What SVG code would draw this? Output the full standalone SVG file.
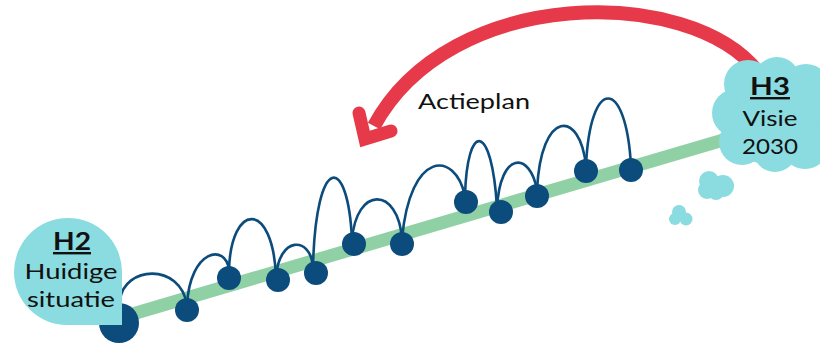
<svg xmlns="http://www.w3.org/2000/svg" width="820" height="343" viewBox="0 0 820 343">
  <style>
    .lbl { font-family: Lato, "Liberation Sans", sans-serif; fill: #111; text-anchor: middle; }
    .hd { font-weight: bold; text-decoration: underline; }
    .cyan { fill: #8adce0; }
    .arc { fill: none; stroke: #0b4c7c; stroke-width: 2.6; stroke-linecap: round; }
    .dot { fill: #0b4c7c; }
    .red { fill: none; stroke: #e63a4a; }
  </style>
  <rect width="820" height="343" fill="#ffffff"/>

  <!-- red arrow -->
  <g id="arrow-actieplan">
    <path class="red" d="M 758 72 C 690 -15 450 -15 374 126" stroke-width="14"/>
    <polyline class="red" points="359,113 365,139 391,131" stroke-width="13" stroke-linejoin="miter" stroke-linecap="round"/>
    <text class="lbl" x="474" y="109" font-size="22" textLength="112" lengthAdjust="spacingAndGlyphs">Actieplan</text>
  </g>

  <!-- green path line and jumps -->
  <g id="connectors">
    <line x1="119" y1="318" x2="730" y2="138" stroke="#8fd1a5" stroke-width="13"/>
    <path class="arc" d="M 120 300 C 124 266 180 262 187 305"/>
    <path class="arc" d="M 187 305 C 190 249 226 243 229 270"/>
    <path class="arc" d="M 229 270 C 231 202 273 200 276 277"/>
    <path class="arc" d="M 276 277 C 279 236 310 236 313 266"/>
    <path class="arc" d="M 313 266 C 316 153 348 153 352 240"/>
    <path class="arc" d="M 352 240 C 356 186 398 186 402 239"/>
    <path class="arc" d="M 402 239 C 410 150 455 150 465 196"/>
    <path class="arc" d="M 465 196 C 467 121 492 121 497 208"/>
    <path class="arc" d="M 497 208 C 500 151 530 151 537 190"/>
    <path class="arc" d="M 537 190 C 541 109 580 109 586 166"/>
    <path class="arc" d="M 586 166 C 590 76 626 76 631 166"/>
  </g>

  <g id="steps">
    <circle class="dot" cx="119" cy="323" r="20"/>
    <circle class="dot" cx="187" cy="310" r="12"/>
    <circle class="dot" cx="229" cy="278" r="12"/>
    <circle class="dot" cx="278" cy="280" r="12"/>
    <circle class="dot" cx="316" cy="273" r="12"/>
    <circle class="dot" cx="354" cy="244" r="12"/>
    <circle class="dot" cx="402" cy="244" r="12"/>
    <circle class="dot" cx="466" cy="202" r="12"/>
    <circle class="dot" cx="501" cy="212" r="12"/>
    <circle class="dot" cx="537" cy="196" r="12"/>
    <circle class="dot" cx="586" cy="171" r="12"/>
    <circle class="dot" cx="631" cy="170" r="12"/>
  </g>

  <!-- H2 bubble -->
  <g id="node-h2">
    <path class="cyan" d="M 14 272 A 54 54 0 0 1 122 272 L 122 325 L 68 325 A 53 53 0 0 1 14 272 Z"/>
    <text class="lbl hd" x="72" y="250" font-size="24" textLength="38" lengthAdjust="spacingAndGlyphs">H2</text>
    <text class="lbl" x="71" y="279" font-size="22" textLength="93" lengthAdjust="spacingAndGlyphs">Huidige</text>
    <text class="lbl" x="71" y="307" font-size="22" textLength="88" lengthAdjust="spacingAndGlyphs">situatie</text>
  </g>

  <!-- H3 cloud -->
  <g id="node-h3">
    <g class="cyan">
      <circle cx="772" cy="115" r="50"/>
      <circle cx="748" cy="84" r="24"/>
      <circle cx="777" cy="80" r="23"/>
      <circle cx="806" cy="88" r="24"/>
      <circle cx="818" cy="115" r="24"/>
      <circle cx="736" cy="113" r="24"/>
      <circle cx="742" cy="142" r="23"/>
      <circle cx="775" cy="150" r="22"/>
      <circle cx="805" cy="145" r="24"/>
    </g>
    <text class="lbl hd" x="770" y="95" font-size="24" textLength="40" lengthAdjust="spacingAndGlyphs">H3</text>
    <text class="lbl" x="770" y="126" font-size="22" textLength="55" lengthAdjust="spacingAndGlyphs">Visie</text>
    <text class="lbl" x="770" y="154" font-size="22" textLength="56" lengthAdjust="spacingAndGlyphs">2030</text>
  </g>

  <g id="cloud-small-1" class="cyan">
    <circle cx="709" cy="181" r="10"/>
    <circle cx="723" cy="186" r="11"/>
    <circle cx="707" cy="190" r="9"/>
    <circle cx="716" cy="192" r="8"/>
  </g>
  <g id="cloud-small-2" class="cyan">
    <circle cx="679" cy="212" r="7"/>
    <circle cx="686" cy="219" r="6.5"/>
    <circle cx="675" cy="219" r="6"/>
  </g>
</svg>
